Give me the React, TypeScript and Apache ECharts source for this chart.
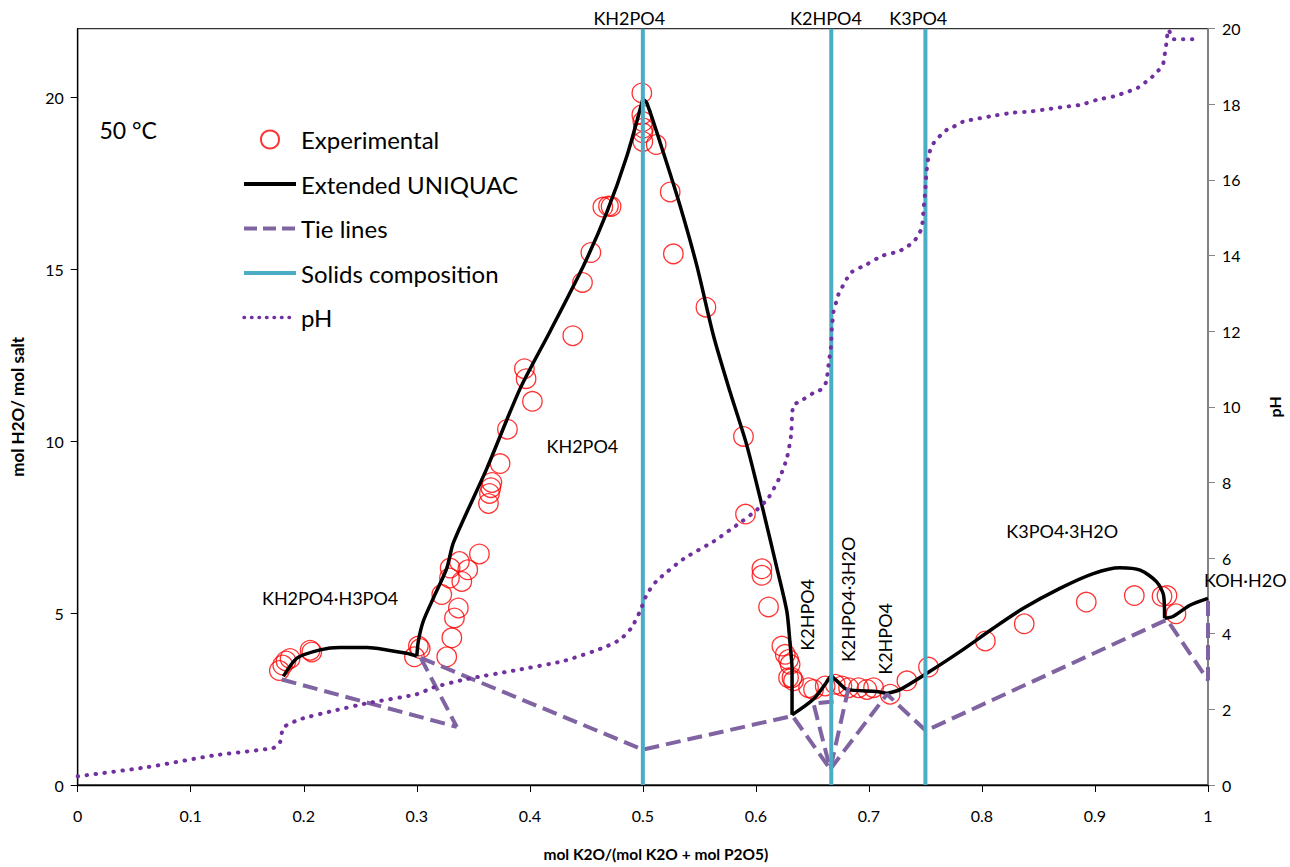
import React, { useEffect, useRef } from "react";
import * as echarts from "echarts";

const FONT = "Lato, 'Open Sans', sans-serif";

// Experimental points [x, mol H2O / mol salt]
const experimental: number[][] = [
  [0.1784, 3.33], [0.1814, 3.49], [0.1843, 3.61], [0.1879, 3.68], [0.2056, 3.92], [0.2071, 3.87],
  [0.2979, 3.73], [0.3014, 4.04], [0.303, 3.97], [0.3265, 3.73], [0.331, 4.28], [0.3333, 4.86],
  [0.3368, 5.15], [0.3221, 5.54], [0.3289, 6.02], [0.3295, 6.31], [0.3398, 5.92], [0.3377, 6.5],
  [0.3451, 6.26], [0.3554, 6.72], [0.3634, 8.19], [0.3643, 8.48], [0.3655, 8.65], [0.3664, 8.8],
  [0.3737, 9.35], [0.3802, 10.35], [0.4023, 11.16], [0.3967, 11.82], [0.3952, 12.11], [0.438, 13.07],
  [0.4466, 14.62], [0.454, 15.49], [0.4646, 16.81], [0.4696, 16.84], [0.4719, 16.83], [0.4991, 20.13],
  [0.4991, 19.5], [0.5, 19.3], [0.5005, 19.11], [0.5, 18.97], [0.5, 18.72], [0.5118, 18.63],
  [0.5242, 17.25], [0.527, 15.45], [0.5558, 13.9], [0.589, 10.14], [0.5908, 7.88], [0.6053, 6.29],
  [0.6053, 6.1], [0.6112, 5.18], [0.623, 4.04], [0.626, 3.8], [0.6289, 3.65], [0.6303, 3.51],
  [0.6319, 3.12], [0.6289, 3.12], [0.6333, 3.03], [0.6466, 2.83], [0.651, 2.78], [0.6613, 2.88],
  [0.6702, 2.93], [0.6761, 2.88], [0.682, 2.83], [0.6908, 2.83], [0.6982, 2.78], [0.7041, 2.83],
  [0.7188, 2.64], [0.7336, 3.03], [0.7527, 3.43], [0.803, 4.19], [0.8374, 4.69], [0.8923, 5.32],
  [0.9348, 5.51], [0.9593, 5.49], [0.9637, 5.51], [0.9717, 4.98],
];

// Extended UNIQUAC model curve, split where the curve has sharp corners
const uniquacA: number[][] = [
  [0.182, 3.16], [0.194, 3.69], [0.2145, 3.93], [0.232, 4.0], [0.256, 4.0], [0.2735, 3.93],
  [0.291, 3.83], [0.3, 3.75],
];
const uniquacB: number[][] = [
  [0.3, 3.75], [0.3014, 4.19], [0.3058, 4.77], [0.3147, 5.44], [0.3265, 6.3],
  [0.3324, 7.05], [0.362, 9.21], [0.3914, 11.53], [0.418, 13.2], [0.4474, 15.1], [0.468, 16.65],
  [0.4858, 18.29], [0.5, 19.95],
];
const uniquacC: number[][] = [
  [0.5, 19.95], [0.5035, 19.84], [0.5182, 18.39], [0.533, 16.84], [0.5478, 15.1],
  [0.5625, 13.07], [0.5772, 11.43], [0.592, 9.88], [0.6067, 7.95], [0.6186, 6.31], [0.6274, 5.05],
  [0.6303, 4.09], [0.632, 3.4], [0.632, 2.04],
];
const uniquacD: number[][] = [
  [0.632, 2.04], [0.651, 2.5], [0.6665, 3.18],
];
const uniquacE: number[][] = [
  [0.6665, 3.18], [0.6717, 3.03], [0.6805, 2.78], [0.707, 2.72], [0.716, 2.66],
];
const uniquacF: number[][] = [
  [0.716, 2.66], [0.7279, 2.78], [0.7513, 3.25], [0.7806, 3.88],
  [0.81, 4.56], [0.8366, 5.14], [0.869, 5.72], [0.8985, 6.15], [0.922, 6.32], [0.94, 6.25],
  [0.9546, 5.91], [0.9607, 5.52], [0.9616, 4.85],
];
const uniquacG: number[][] = [
  [0.9616, 4.85], [0.969, 4.9], [0.984, 5.23], [1.0, 5.43],
];
const uniquacParts = [uniquacA, uniquacB, uniquacC, uniquacD, uniquacE, uniquacF, uniquacG];

// Tie lines (each a separate polyline)
const tieLines: number[][][] = [
  [[0.1805, 3.07], [0.3354, 1.69]],
  [[0.3035, 3.7], [0.3354, 1.69]],
  [[0.3035, 3.7], [0.5, 1.03], [0.6324, 2.01], [0.6658, 0.46]],
  [[0.6687, 2.43], [0.651, 2.37], [0.6658, 0.46]],
  [[0.682, 2.83], [0.6658, 0.46]],
  [[0.6658, 0.46], [0.716, 2.64], [0.7503, 1.58], [0.9637, 4.81], [1.0, 3.05], [1.0, 5.43]],
];

// Solids composition (vertical lines)
const solidsX: number[] = [0.5, 0.6667, 0.75];
const solidsY: number[] = [0, 22];

// pH curve [x, pH]
const phCurve: number[][] = [
  [0.0, 0.23], [0.061, 0.47], [0.12, 0.78], [0.173, 0.98], [0.179, 1.13], [0.182, 1.52],
  [0.197, 1.74], [0.226, 1.96], [0.2557, 2.16], [0.3, 2.4], [0.3147, 2.58], [0.344, 2.8],
  [0.3885, 3.04], [0.43, 3.28], [0.465, 3.63], [0.48, 3.85], [0.49, 4.16], [0.4976, 4.6],
  [0.5035, 5.04], [0.512, 5.39], [0.536, 5.98], [0.5625, 6.44], [0.5876, 6.97], [0.601, 7.28],
  [0.611, 7.59], [0.6215, 8.16], [0.6274, 8.64], [0.6312, 9.26], [0.6319, 9.7], [0.6333, 10.05],
  [0.639, 10.14], [0.651, 10.37], [0.6584, 10.47], [0.6622, 10.66], [0.6642, 11.1], [0.6664, 11.59],
  [0.6672, 12.07], [0.6687, 12.51], [0.671, 12.76], [0.673, 12.97], [0.6805, 13.39], [0.685, 13.57],
  [0.6982, 13.77], [0.7115, 13.99], [0.7262, 14.11], [0.733, 14.22], [0.7394, 14.36], [0.7439, 14.55],
  [0.7469, 14.75], [0.7483, 15.22], [0.7498, 15.68], [0.7507, 16.14], [0.7527, 16.62], [0.7549, 16.84],
  [0.7587, 17.04], [0.7646, 17.21], [0.7696, 17.34], [0.7764, 17.43], [0.7832, 17.54], [0.7979, 17.63],
  [0.8126, 17.71], [0.828, 17.78], [0.8427, 17.81], [0.8575, 17.87], [0.8722, 17.93], [0.8879, 17.99],
  [0.9018, 18.12], [0.9165, 18.21], [0.9306, 18.35], [0.938, 18.44], [0.9445, 18.58], [0.9504, 18.72],
  [0.9557, 18.88], [0.9602, 19.06], [0.9616, 19.3], [0.9628, 19.52], [0.9637, 19.76], [0.9651, 19.98],
  [0.9665, 19.89], [0.9701, 19.72], [0.9779, 19.72], [0.9858, 19.72], [0.9932, 19.67],
];

const xTicks: number[] = [0, 0.1, 0.2, 0.3, 0.4, 0.5, 0.6, 0.7, 0.8, 0.9, 1];
const yLeftTicks: number[] = [0, 5, 10, 15, 20];

const legendNames: string[] = ["Experimental", "Extended UNIQUAC", "Tie lines", "Solids composition", "pH"];

// Annotations in data coordinates
const annotations = [
  { text: "50 °C", x: 0.0446, y: 19.06, rot: 0, size: 23 },
  { text: "KH2PO4", x: 0.488, y: 22.3, rot: 0, size: 18 },
  { text: "K2HPO4", x: 0.662, y: 22.3, rot: 0, size: 18 },
  { text: "K3PO4", x: 0.7437, y: 22.3, rot: 0, size: 18 },
  { text: "KH2PO4", x: 0.4465, y: 9.87, rot: 0, size: 18 },
  { text: "KH2PO4·H3PO4", x: 0.2233, y: 5.44, rot: 0, size: 18 },
  { text: "K2HPO4", x: 0.6449, y: 4.95, rot: 90, size: 18 },
  { text: "K2HPO4·3H2O", x: 0.6817, y: 5.4, rot: 90, size: 18 },
  { text: "K2HPO4", x: 0.7145, y: 4.25, rot: 90, size: 18 },
  { text: "K3PO4·3H2O", x: 0.871, y: 7.38, rot: 0, size: 18 },
  { text: "KOH·H2O", x: 1.033, y: 5.96, rot: 0, size: 18 },
];

export default function App() {
  const ref = useRef<HTMLDivElement>(null);
  useEffect(() => {
    if (!ref.current) return;
    const chart = echarts.init(ref.current, null, { renderer: "svg" });

    const tieDash = [15, 7];
    const phDash = [0.5, 8.5];
    const series: any[] = [
      {
        name: "Experimental",
        type: "scatter",
        data: experimental,
        symbol: "circle",
        symbolSize: 19.5,
        itemStyle: { color: "rgba(255,255,255,0)", borderColor: "#ff0000", borderWidth: 1.3 },
        z: 2,
      },
    ];
    uniquacParts.forEach((part) => {
      series.push({
        name: "Extended UNIQUAC",
        type: "line",
        data: part,
        showSymbol: false,
        symbol: "none",
        smooth: 0.25,
        lineStyle: { color: "#000", width: 3.5 },
        itemStyle: { color: "#000" },
        z: 3,
      });
    });
    tieLines.forEach((seg) => {
      series.push({
        name: "Tie lines",
        type: "line",
        data: seg,
        showSymbol: false,
        symbol: "none",
        lineStyle: { color: "#8064a2", width: 4, type: tieDash },
        itemStyle: { color: "#8064a2" },
        z: 4,
      });
    });
    solidsX.forEach((sx) => {
      series.push({
        name: "Solids composition",
        type: "line",
        data: solidsY.map((v) => [sx, v]),
        showSymbol: false,
        symbol: "none",
        lineStyle: { color: "#4bacc6", width: 4 },
        itemStyle: { color: "#4bacc6" },
        z: 5,
      });
    });
    series.push({
      name: "pH",
      type: "line",
      yAxisIndex: 1,
      data: phCurve,
      showSymbol: false,
      symbol: "none",
      smooth: 0.2,
      lineStyle: { color: "#7030a0", width: 4, type: phDash, cap: "round" },
      itemStyle: { color: "#7030a0" },
      z: 6,
    });

    const legendData = [
      { name: legendNames[0] },
      { name: legendNames[1], itemStyle: { opacity: 0 }, lineStyle: { color: "#000", width: 4 } },
      { name: legendNames[2], itemStyle: { opacity: 0 }, lineStyle: { color: "#8064a2", width: 4, type: [13, 6] } },
      { name: legendNames[3], itemStyle: { opacity: 0 }, lineStyle: { color: "#4bacc6", width: 4 } },
      { name: legendNames[4], itemStyle: { opacity: 0 }, lineStyle: { color: "#7030a0", width: 3.5, type: [0.5, 7], cap: "round" } },
    ];

    const option: any = {
      animation: false,
      backgroundColor: "#fff",
      textStyle: { fontFamily: FONT },
      grid: {
        left: 77.7,
        right: 82,
        top: 28.7,
        bottom: 79.3,
        show: true,
        borderColor: "#333",
        borderWidth: 1.3,
        containLabel: false,
      },
      legend: {
        orient: "vertical",
        left: 237,
        top: 122,
        data: legendData,
        itemWidth: 52,
        itemHeight: 18,
        itemGap: 19.5,
        textStyle: { fontSize: 24, color: "#000", fontFamily: FONT, lineHeight: 25 },
      },
      xAxis: {
        type: "value",
        min: 0,
        max: 1,
        interval: 0.1,
        name: "mol K2O/(mol K2O + mol P2O5)",
        nameLocation: "middle",
        nameGap: 61,
        nameTextStyle: { fontSize: 15.5, fontWeight: "bold", color: "#000", fontFamily: FONT, padding: [0, 0, 0, 26] },
        axisLine: { lineStyle: { color: "#000", width: 1.3 } },
        axisTick: { inside: false, length: 7, lineStyle: { color: "#000" } },
        axisLabel: {
          fontSize: 16,
          color: "#000",
          margin: 22,
          fontFamily: FONT,
          customValues: xTicks,
          formatter: (v: number) => String(Math.round(v * 10) / 10),
        },
        splitLine: { show: false },
      },
      yAxis: [
        {
          type: "value",
          min: 0,
          max: 22,
          interval: 5,
          position: "left",
          name: "mol H2O/ mol salt",
          nameLocation: "middle",
          nameGap: 52,
          nameRotate: 90,
          nameTextStyle: { fontSize: 17, fontWeight: "bold", color: "#000", fontFamily: FONT },
          axisLine: { show: true, lineStyle: { color: "#000", width: 1.3 } },
          axisTick: { show: true, inside: false, length: 7, lineStyle: { color: "#000" }, customValues: yLeftTicks },
          axisLabel: { fontSize: 16, color: "#000", margin: 14, fontFamily: FONT, customValues: yLeftTicks },
          splitLine: { show: false },
        },
        {
          type: "value",
          min: 0,
          max: 20,
          interval: 2,
          position: "right",
          name: "pH",
          nameLocation: "middle",
          nameGap: 58,
          nameRotate: 90,
          nameTextStyle: { fontSize: 16, fontWeight: "bold", color: "#000", fontFamily: FONT },
          axisLine: { show: true, lineStyle: { color: "#868686", width: 1.5 } },
          axisTick: { show: true, inside: false, length: 7, lineStyle: { color: "#868686" } },
          axisLabel: { fontSize: 16, color: "#000", margin: 14, fontFamily: FONT },
          splitLine: { show: false },
        },
      ],
      series,
    };
    chart.setOption(option);

    const graphic = annotations.map((a) => {
      const p = chart.convertToPixel({ gridIndex: 0 } as any, [a.x, a.y]) as number[];
      return {
        type: "text",
        x: p[0],
        y: p[1],
        rotation: (a.rot * Math.PI) / 180,
        z: 100,
        style: {
          text: a.text,
          fontSize: a.size,
          fontFamily: FONT,
          fill: "#000",
          align: "center",
          verticalAlign: "middle",
        },
      };
    });
    chart.setOption({ graphic });

    return () => chart.dispose();
  }, []);

  return <div ref={ref} style={{ position: "absolute", left: 0, top: 0, width: 1290, height: 867 }} />;
}
